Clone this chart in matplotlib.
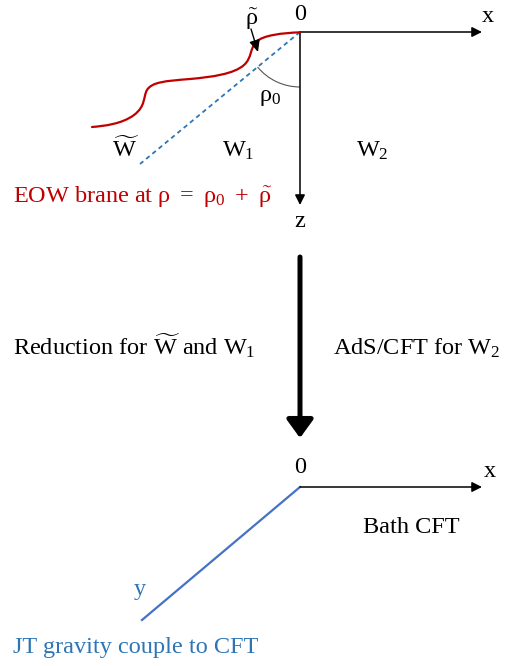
import matplotlib
matplotlib.use("Agg")
import matplotlib.pyplot as plt
import numpy as np
from matplotlib.path import Path
from matplotlib.patches import PathPatch, Arc

plt.rcParams['font.family'] = ['Liberation Serif', 'DejaVu Serif']
plt.rcParams['mathtext.fontset'] = 'custom'
plt.rcParams['mathtext.rm'] = 'Liberation Serif'
plt.rcParams['mathtext.it'] = 'Liberation Serif'
plt.rcParams['mathtext.bf'] = 'Liberation Serif:bold'

# ---- diagram content (pixel coordinates of the reference) ----
top_origin = (300, 32)
bottom_origin = (300, 487)
x_axis_len = 182
z_axis_len = 173
brane_end = (140, 164)          # dashed straight brane
jt_end = (142, 620)             # JT gravity line end
# control points of the wavy EOW brane (cubic Bezier segments)
brane_ctrl = [(300, 32.3),
              (283, 33), (263, 35), (256, 42),
              (250, 48), (252, 58), (244, 65),
              (234, 74), (212, 77), (190, 79),
              (165, 81), (152, 82), (147, 90),
              (143, 97), (146, 106), (134, 115),
              (122, 124), (104, 126), (92, 127)]

RED = '#C00000'
BLUE_TXT = '#2E75B6'
BLUE_DASH = '#2E75B6'
BLUE_LINE = '#4472C4'
FS = 17.5

fig = plt.figure(figsize=(5.19, 6.66), dpi=100)
ax = fig.add_axes([0, 0, 1, 1])
ax.set_xlim(0, 519)
ax.set_ylim(666, 0)
ax.axis('off')

def arrow(p0, p1, lw=1.1, hl=6.0, hw=3.0):
    ax.annotate('', xy=p1, xytext=p0,
                arrowprops=dict(arrowstyle=f'-|>,head_length={hl},head_width={hw}',
                                lw=lw, color='black', shrinkA=0, shrinkB=0,
                                mutation_scale=1))

# top axes
ox, oy = top_origin
arrow((ox, oy), (ox + x_axis_len, oy))
arrow((ox, oy), (ox, oy + z_axis_len))

# wavy brane
codes = [Path.MOVETO] + [Path.CURVE4] * (len(brane_ctrl) - 1)
ax.add_patch(PathPatch(Path(brane_ctrl, codes), fill=False, ec=RED, lw=1.6,
                       capstyle='round', zorder=3))

# dashed straight brane
ax.plot([ox, brane_end[0]], [oy, brane_end[1]], color=BLUE_DASH, lw=1.3,
        dashes=(2.5, 2.0))

# angle arc rho_0
ang = np.degrees(np.arctan2(brane_end[1] - oy, brane_end[0] - ox))
ax.add_patch(Arc((ox, oy), 110, 110, theta1=90, theta2=ang, color='#555555', lw=0.8))

# rho tilde arrow
ax.annotate('', xy=(258, 52), xytext=(251, 29),
            arrowprops=dict(arrowstyle='-|>,head_length=7,head_width=3.2',
                            lw=1.0, color='black', shrinkA=0, shrinkB=0,
                            mutation_scale=1))

# top labels
ax.text(300, 20, '0', fontsize=FS, ha='center', va='baseline')
ax.text(488, 22, 'x', fontsize=FS, ha='center', va='baseline')
ax.text(252, 25, r'$\tilde{\rho}$', fontsize=FS, ha='center', va='baseline')
ax.text(270, 101, r'$\rho_0$', fontsize=FS, ha='center', va='baseline')
ax.text(126, 157, r'$\widetilde{W}$', fontsize=FS, ha='center', va='baseline')
ax.text(238, 157, r'$W_1$', fontsize=FS, ha='center', va='baseline')
ax.text(372, 157, r'$W_2$', fontsize=FS, ha='center', va='baseline')
ax.text(300, 227, 'z', fontsize=FS, ha='center', va='baseline')
ax.text(13, 203, r'EOW brane at $\rho\ =\ \rho_0\ +\ \tilde{\rho}$', fontsize=FS,
        color=RED, ha='left', va='baseline')

# big arrow
ax.annotate('', xy=(300, 438), xytext=(300, 257),
            arrowprops=dict(arrowstyle='-|>,head_length=11,head_width=8',
                            lw=3.6, color='black', shrinkA=0, shrinkB=0,
                            mutation_scale=1))
ax.text(13, 355, r'Reduction for $\widetilde{W}$ and $W_1$', fontsize=FS,
        ha='left', va='baseline')
ax.text(333, 355, r'AdS/CFT for $W_2$', fontsize=FS, ha='left', va='baseline')

# bottom axes
bx, by = bottom_origin
arrow((bx, by), (bx + x_axis_len, by))
ax.plot([bx, jt_end[0]], [by, jt_end[1]], color=BLUE_LINE, lw=1.6)
ax.text(300, 473, '0', fontsize=FS, ha='center', va='baseline')
ax.text(490, 477, 'x', fontsize=FS, ha='center', va='baseline')
ax.text(363, 533, 'Bath CFT', fontsize=FS, ha='left', va='baseline')
ax.text(140, 595, 'y', fontsize=FS, color=BLUE_TXT, ha='center', va='baseline')
ax.text(13, 653, 'JT gravity couple to CFT', fontsize=FS, color=BLUE_TXT,
        ha='left', va='baseline')

fig.savefig('out.png', dpi=100)
